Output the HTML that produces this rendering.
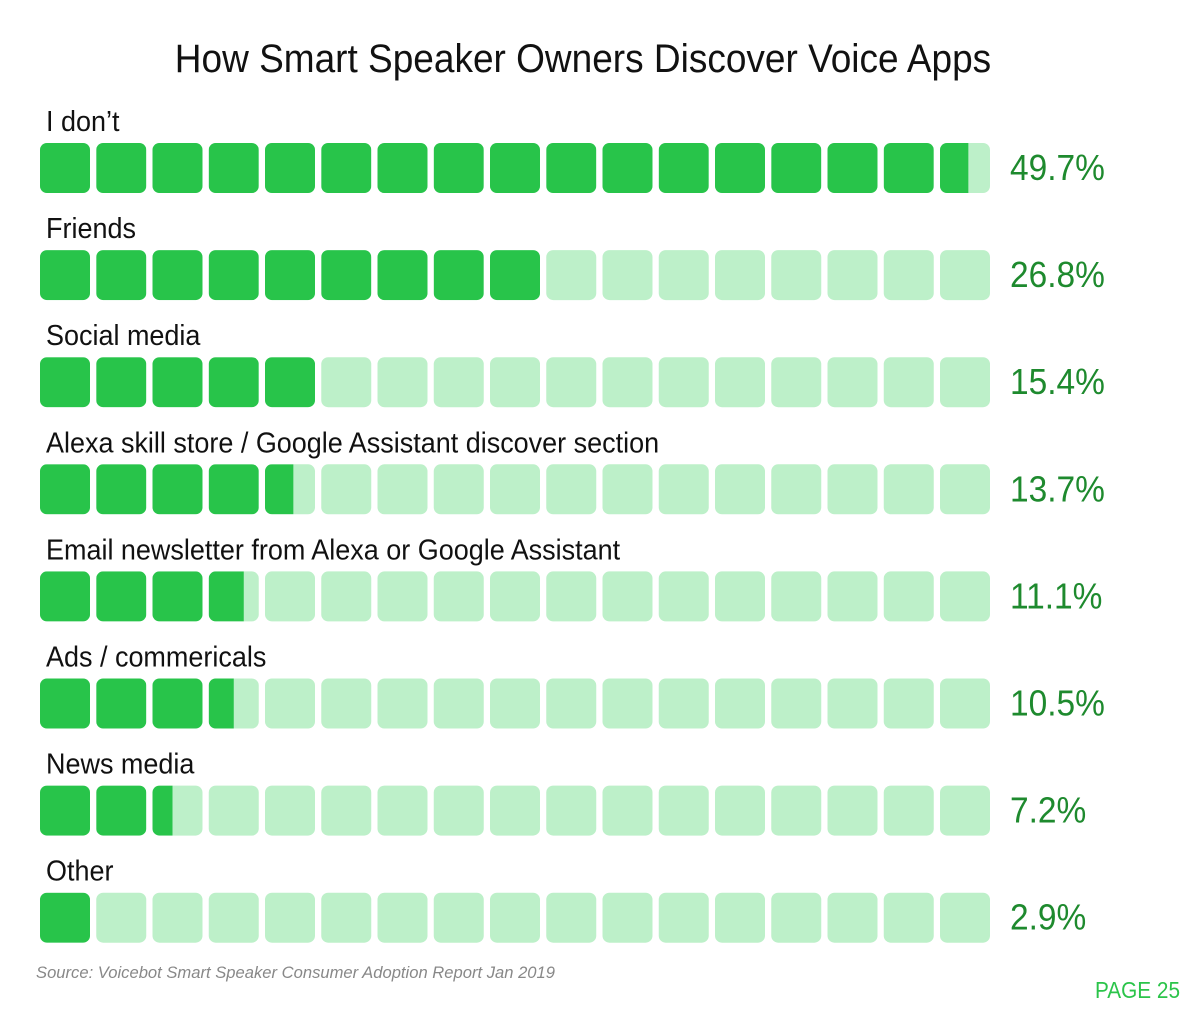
<!DOCTYPE html>
<html><head><meta charset="utf-8"><style>
body{margin:0;background:#fff;width:1200px;height:1024px;overflow:hidden;font-family:"Liberation Sans Narrow","Liberation Sans",sans-serif;}
</style></head><body>
<svg id="chart" width="1200" height="1024">
<text id="title" x="583" y="72" text-anchor="middle" font-size="40" fill="#111">How Smart Speaker Owners Discover Voice Apps</text>
<g id="rows"></g>
<text x="36" y="978" font-size="17" font-style="italic" fill="#888" textLength="519" lengthAdjust="spacingAndGlyphs">Source: Voicebot Smart Speaker Consumer Adoption Report Jan 2019</text>
<text x="1180" y="998" text-anchor="end" font-size="23" fill="#2bc44a" textLength="85" lengthAdjust="spacingAndGlyphs">PAGE 25</text>
</svg>
<script>
const categories=["I don’t","Friends","Social media","Alexa skill store / Google Assistant discover section","Email newsletter from Alexa or Google Assistant","Ads / commericals","News media","Other"];
const values=[49.7,26.8,15.4,13.7,11.1,10.5,7.2,2.9];
const labels=["49.7%","26.8%","15.4%","13.7%","11.1%","10.5%","7.2%","2.9%"];
const NS="http://www.w3.org/2000/svg";
const g=document.getElementById('rows');
const nBlocks=17,perBlock=3,x0=40,pitch=56.25,bw=50,bh=50;
function rowY(i){return 143+i*107.1;}
function mk(t,a){const e=document.createElementNS(NS,t);for(const k in a)e.setAttribute(k,a[k]);return e;}
function squeeze(el,f){const w=el.getComputedTextLength();el.setAttribute('textLength',w*f);el.setAttribute('lengthAdjust','spacingAndGlyphs');}
squeeze(document.getElementById('title'),0.925);
categories.forEach((c,i)=>{
  const y=rowY(i);
  const lab=mk('text',{x:46,y:y-12,'font-size':29,fill:'#111'});lab.textContent=c;
  
  
  g.appendChild(lab);squeeze(lab,0.93);
  const filled=values[i]/perBlock;
  for(let b=0;b<nBlocks;b++){
    const x=x0+b*pitch;
    const bg=mk('rect',{x:x,y:y,width:bw,height:bh,rx:7,fill:'#bdf0c9'});
    
    
    g.appendChild(bg);
    let f=Math.max(0,Math.min(1,filled-b));
    if(f>0.85)f=1;
    if(f>0.2){
      const cp='cp'+i+'_'+b;
      const clip=mk('clipPath',{id:cp});clip.appendChild(mk('rect',{x:x,y:y,width:bw,height:bh,rx:7}));g.appendChild(clip);
      const fr=mk('rect',{x:x,y:y,width:bw*f,height:bh,fill:'#28c44a','clip-path':'url(#'+cp+')'});
      
      
      g.appendChild(fr);
    }
  }
  const v=mk('text',{x:1010,y:y+37,'font-size':36,fill:'#1e8a2e'});v.textContent=labels[i];
  
  
  g.appendChild(v);squeeze(v,0.93);
});
</script>
</body></html>
